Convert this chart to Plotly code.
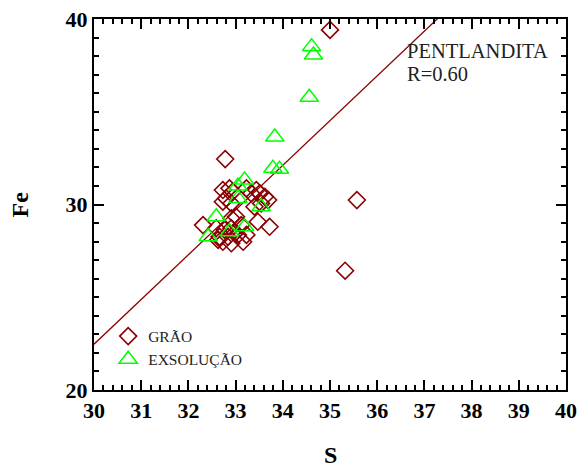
import plotly.graph_objects as go

# GRÃO (diamonds)
grao_s = [35.00, 35.57, 35.32, 32.78, 32.73, 32.87, 32.94, 32.80, 32.73, 32.91,
          33.23, 33.33, 33.44, 33.51, 33.62, 33.69, 33.54, 33.40, 32.31, 33.72,
          33.47, 32.91, 33.01, 32.59, 32.77, 32.91, 33.12, 33.23, 33.05, 32.84,
          32.63, 32.73, 32.91, 32.66, 33.16, 32.98]
grao_fe = [39.41, 30.24, 26.43, 32.45, 30.78, 30.87, 30.69, 30.33, 30.15, 30.06,
           30.87, 30.60, 30.78, 30.60, 30.42, 30.24, 30.06, 29.88, 28.89, 28.80,
           29.07, 29.26, 29.34, 28.72, 28.63, 28.72, 28.89, 28.36, 28.36, 28.26,
           28.09, 27.99, 27.91, 28.26, 27.99, 28.45]

# EXSOLUÇÃO (triangles)
exs_s = [34.61, 34.65, 34.56, 33.83, 33.79, 33.93, 33.19, 33.05, 33.54, 32.59,
         32.42, 33.19, 32.87, 33.05]
exs_fe = [38.51, 38.06, 35.78, 33.64, 31.95, 31.90, 31.32, 30.33, 29.88, 29.34,
          28.26, 28.80, 28.53, 31.00]

# regression line
line_s = [30.0, 40.0]
line_fe = [22.47, 46.58]

x_ticks = [30, 31, 32, 33, 34, 35, 36, 37, 38, 39, 40]
y_ticks = [20, 30, 40]

serif = "Liberation Serif, Times New Roman, serif"

fig = go.Figure()
fig.add_trace(go.Scatter(
    x=line_s, y=line_fe, mode="lines",
    line=dict(color="#8B0000", width=1.3), showlegend=False, hoverinfo="skip"))
fig.add_trace(go.Scatter(
    x=grao_s, y=grao_fe, mode="markers", name="GRÃO",
    marker=dict(symbol="diamond-open", size=13, color="#8B0000",
                line=dict(width=1.6, color="#8B0000"))))
fig.add_trace(go.Scatter(
    x=exs_s, y=exs_fe, mode="markers", name="EXSOLUÇÃO",
    marker=dict(symbol="triangle-up-open", size=16, color="#00FF00",
                line=dict(width=1.5, color="#00FF00"))))

axis_common = dict(
    showline=True, linecolor="black", linewidth=2, mirror="ticks",
    ticks="inside", ticklen=10, tickwidth=2, tickcolor="black",
    showgrid=False, zeroline=False, automargin=False,
    tickfont=dict(family=serif, size=22, color="black", weight="bold"),
)

fig.update_xaxes(
    range=[30, 40], tickvals=x_ticks, ticktext=[str(v) for v in x_ticks],
    minor=dict(dtick=0.2, ticks="inside", ticklen=5, tickwidth=1.5, tickcolor="black"),
    **axis_common)
fig.update_yaxes(
    range=[20, 40], tickvals=y_ticks, ticktext=[str(v) for v in y_ticks],
    minor=dict(dtick=1, ticks="inside", ticklen=5, tickwidth=1.5, tickcolor="black"),
    **axis_common)

# axis titles
fig.add_annotation(
    xref="paper", yref="paper", x=0.5, y=-0.175, xanchor="center", yanchor="middle",
    text="<b>S</b>", showarrow=False,
    font=dict(family=serif, size=24, color="black"))
fig.add_annotation(
    xref="paper", yref="paper", x=-0.157, y=0.5, xanchor="center", yanchor="middle",
    text="<b>Fe</b>", showarrow=False, textangle=-90,
    font=dict(family=serif, size=24, color="black"))

fig.add_annotation(
    xref="paper", yref="paper", x=0.658, y=0.914, xanchor="left", yanchor="middle",
    text="PENTLANDITA", align="left", showarrow=False,
    font=dict(family=serif, size=20.5, color="#222222"))
fig.add_annotation(
    xref="paper", yref="paper", x=0.658, y=0.851, xanchor="left", yanchor="middle",
    text="R=0.60", align="left", showarrow=False,
    font=dict(family=serif, size=20.5, color="#222222"))

fig.update_layout(
    width=586, height=471,
    margin=dict(l=94, r=20, t=19, b=81),
    paper_bgcolor="white", plot_bgcolor="white",
    legend=dict(x=0.03, y=0.19, xanchor="left", yanchor="top",
                bgcolor="rgba(0,0,0,0)", tracegroupgap=0, itemwidth=30,
                font=dict(family=serif, size=15.5, color="#222222")),
)

fig.write_html("out.html")
